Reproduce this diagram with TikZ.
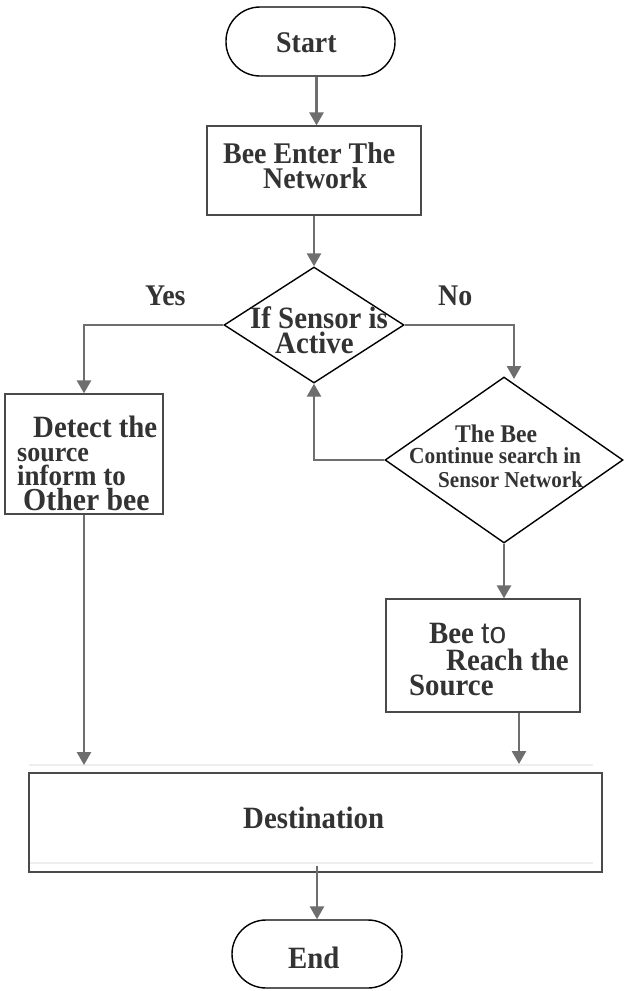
\documentclass[tikz,border=0pt]{standalone}
\usepackage{fontspec}
\setmainfont{Liberation Serif}[FakeStretch=0.93]
\newfontfamily\sansf{Liberation Sans}
\usetikzlibrary{shapes.geometric,arrows.meta,calc}
\definecolor{txtc}{HTML}{333333}
\definecolor{arrc}{HTML}{6E6E6E}
\definecolor{boxc}{HTML}{4A4A4A}
\definecolor{faintc}{HTML}{EEEEEE}
\newcommand\tsz[1]{\fontsize{#1}{#1}\selectfont}
\begin{document}
\begin{tikzpicture}[x=1pt,y=-1pt,
  term/.style={draw=black,line width=1.4pt,rounded corners=34pt,inner sep=0pt},
  boxn/.style={draw=boxc,line width=1.2pt,inner sep=0pt},
  dia/.style={diamond,draw=black,line width=1.4pt,inner sep=0pt},
  txt/.style={anchor=base west,inner sep=0pt,text=txtc,font=\bfseries},
  arr/.style={draw=arrc,line width=2.6pt,-{Triangle[length=13pt,width=14pt]}},
  faint/.style={draw=faintc,line width=1.5pt}]
\useasboundingbox (0,0) rectangle (624,991);
\fill[white] (0,0) rectangle (624,991);

% shapes
\node[term,minimum width=169,minimum height=69] (start) at (310.5,41.5) {};
\node[boxn,minimum width=214,minimum height=89] (enter) at (314,170.5) {};
\node[dia,minimum width=180,minimum height=116] (d1) at (314,325) {};
\node[boxn,minimum width=158,minimum height=120] (detect) at (84,454) {};
\node[dia,minimum width=238,minimum height=166] (d2) at (504,460) {};
\node[boxn,minimum width=194,minimum height=113] (src) at (483,655.5) {};
\draw[faint] (29,765) -- (593,765);
\draw[faint] (29,863) -- (593,863);
\node[boxn,minimum width=573,minimum height=99] (dest) at (315.5,822.5) {};
\node[term,minimum width=170,minimum height=68] (end) at (317,954) {};

% texts
\node[txt] (tstart) at (276,52) {\tsz{30}Start};
\node[txt] (tenter1) at (223,163) {\tsz{30}Bee Enter The};
\node[txt] (tenter2) at (263,188) {\tsz{30}Network};
\node[txt] (td1a) at (250,328) {\tsz{31}If Sensor is};
\node[txt] (td1b) at (275,353) {\tsz{31}Active};
\node[txt] (tyes) at (145,305) {\tsz{30}Yes};
\node[txt] (tno) at (438,305) {\tsz{30}No};
\node[txt] (tdet1) at (33,437) {\tsz{31}Detect the};
\node[txt] (tdet2) at (17,461) {\tsz{28}source};
\node[txt] (tdet3) at (17,485) {\tsz{29}inform to};
\node[txt] (tdet4) at (23,510) {\tsz{32}Other bee};
\node[txt] (td2a) at (455,442) {\tsz{25.4}The Bee};
\node[txt] (td2b) at (409,463) {\tsz{23}Continue search in};
\node[txt] (td2c) at (438,487) {\tsz{22.7}Sensor Network};
\node[txt] (tsrc1) at (429,643) {\tsz{31}Bee {\sansf\mdseries\tsz{30}to}};
\node[txt] (tsrc2) at (446,670) {\tsz{31}Reach the};
\node[txt] (tsrc3) at (409,695) {\tsz{31}Source};
\node[txt] (tdest) at (243,828) {\tsz{31}Destination};
\node[txt] (tend) at (288,968) {\tsz{31}End};

% connectors
\coordinate (d2in) at (514,379);
\coordinate (destinR) at (519,764);
\coordinate (destinL) at (84,765);
\draw[arr] ([xshift=6pt]start.south) -- ([xshift=6pt]start.south |- enter.north);
\draw[arr] (enter.south) -- (d1.north);
\draw[arr] (d1.west) -| (detect.north);
\draw[arr] (d1.east) -| (d2in);
\draw[arr] (d2.west) -| (d1.south);
\draw[arr] (d2.south) -- (d2.south |- src.north);
\draw[arr] (src.south -| destinR) -- (destinR);
\draw[arr] (detect.south) -- (destinL);
\draw[arr] ($(dest.south -| end.north)+(0,-7)$) -- (end.north);
\end{tikzpicture}
\end{document}
